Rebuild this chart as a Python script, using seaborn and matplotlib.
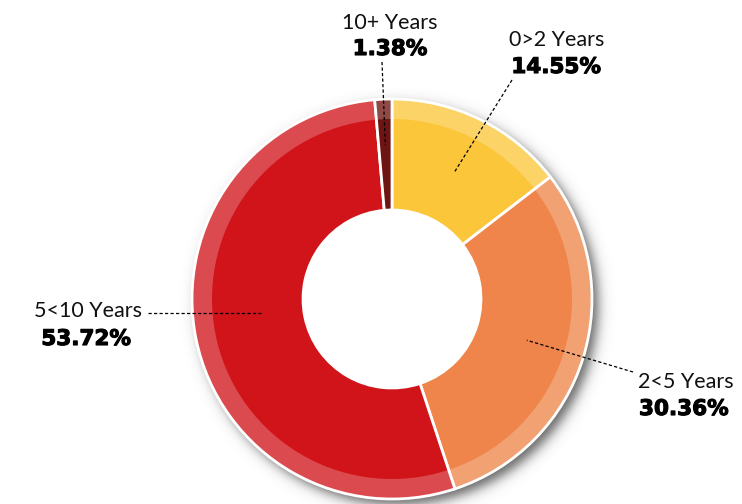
import math
import numpy as np
import matplotlib
matplotlib.use("Agg")
import matplotlib.pyplot as plt
from matplotlib.patches import Wedge, Circle
import matplotlib.patheffects as pe
import seaborn as sns

# Tenure distribution
categories = ["0>2 Years", "2<5 Years", "5<10 Years", "10+ Years"]
shares = [14.55, 30.36, 53.72, 1.38]
pct_labels = ["14.55%", "30.36%", "53.72%", "1.38%"]
slice_colors = ["#FCC63A", "#EF854A", "#D01419", "#6E1412"]

sns.set_theme(style="white")
palette = sns.color_palette(slice_colors)

W, H = 742, 504
fig = plt.figure(figsize=(W / 100, H / 100), dpi=100)
ax = fig.add_axes([0, 0, 1, 1])

# Geometry in pixel units (y measured from the top, converted below)
cx, cy_top = 392, 299
cy = H - cy_top
R_out, band, R_hole = 200, 20, 89

# Soft drop shadow toward the lower right
sx, sy, sigma = cx + 6, cy - 6, 8.0
yy, xx = np.mgrid[0:H, 0:W]
yy = H - yy - 0.5
xx = xx + 0.5
dist = np.hypot(xx - sx, yy - sy) - R_out
alpha = 0.8 * 0.5 * (1 - np.tanh(dist / (sigma * 0.9)))
shadow = np.zeros((H, W, 4))
shadow[..., :3] = 0.25
shadow[..., 3] = alpha
ax.imshow(shadow, extent=(0, W, 0, H), origin="upper", zorder=0, interpolation="bilinear")

# Main donut
ax.pie(shares, radius=R_out, center=(cx, cy), startangle=90, counterclock=False,
       colors=palette, frame=True,
       wedgeprops=dict(width=R_out - R_hole, edgecolor="white", linewidth=2.0))
ax.set_xlim(0, W)
ax.set_ylim(0, H)
ax.set_aspect("equal")
ax.axis("off")

# Clean white centre
ax.add_patch(Circle((cx, cy), R_hole + 0.5, facecolor="white", edgecolor="none", zorder=4))

# Lighter outer band
ax.add_patch(Wedge((cx, cy), R_out, 0, 360, width=band, facecolor="white",
                   alpha=0.23, edgecolor="none", zorder=3))

# Labels and dashed leaders
label_layout = {
    "0>2 Years": dict(name=(557, 46), pct=(556, 73), ha="center",
                      tip=(512, 80), r=141),
    "2<5 Years": dict(name=(638, 388), pct=(639, 415), ha="left",
                      tip=(633, 372), r=141),
    "5<10 Years": dict(name=(88, 317), pct=(86, 345), ha="center",
                       tip=(148, 313), r=134, level=True),
    "10+ Years": dict(name=(390, 29), pct=(390, 55), ha="center",
                      tip=(382, 62), r=154),
}

heavy = [pe.withStroke(linewidth=0.8, foreground="black")]

cum = 0.0
total = sum(shares)
for cat, val, pct in zip(categories, shares, pct_labels):
    mid = math.radians(90 - (cum + val / 2) / total * 360)
    cum += val
    lay = label_layout[cat]
    ax_x = cx + lay["r"] * math.cos(mid)
    ax_y = cy + lay["r"] * math.sin(mid)
    tx, ty = lay["tip"][0], H - lay["tip"][1]
    if lay.get("level"):
        ax_y = ty
    ax.plot([tx, ax_x], [ty, ax_y], color="black", lw=0.9,
            linestyle=(0, (2.6, 1.8)), zorder=5)
    nx, ny = lay["name"]
    px, py = lay["pct"]
    ax.text(nx, H - ny, cat, ha=lay["ha"], va="baseline", fontsize=15.5,
            family="Lato", color="#111111", zorder=6)
    ax.text(px, H - py, pct, ha=lay["ha"], va="baseline", fontsize=15.5,
            family="DejaVu Sans", fontweight="bold", color="black", zorder=6,
            path_effects=heavy)

fig.savefig("out.png", dpi=100, facecolor="white")
